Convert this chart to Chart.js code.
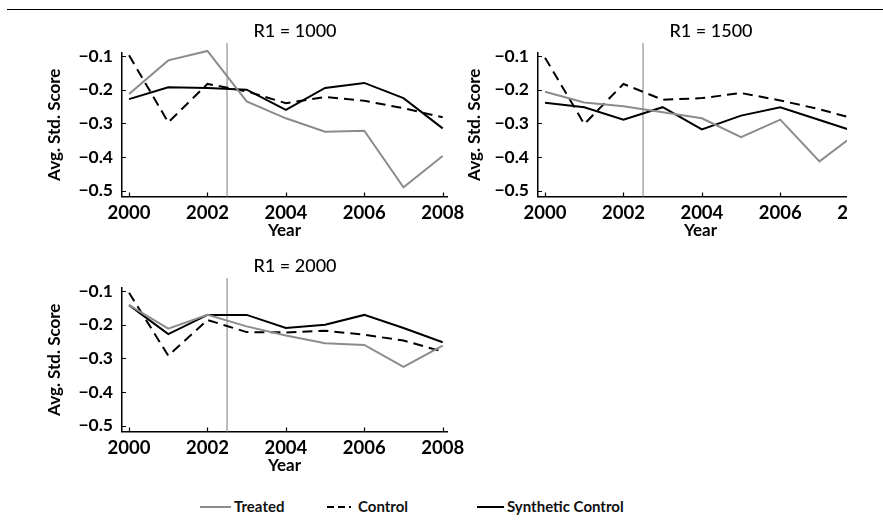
<!DOCTYPE html>
<html>
<head>
<meta charset="utf-8">
<script src="https://cdn.jsdelivr.net/npm/chart.js@4.4.0/dist/chart.umd.min.js"></script>
<style>
body { margin: 0; background: #fff; font-family: Lato, sans-serif; }
#page { position: relative; width: 883px; height: 521px; overflow: hidden; }
#top-rule { position: absolute; left: 7px; top: 9px; width: 876px; border-top: 1.5px solid #000; }
.panel { position: absolute; overflow: hidden; }
.panel-title { position: absolute; width: 200px; text-align: center; font-size: 18px; font-weight: 500; color: #000; line-height: 20px; }
.legend-line { position: absolute; top: 506px; height: 0; border-top: 2px solid #000; }
.legend-text { position: absolute; top: 496px; font-size: 15px; font-weight: bold; color: #111; line-height: 20px; }
</style>
</head>
<body>
<div id="page">
  <div id="top-rule"></div>
  <div class="panel" style="left:0px;top:0px;width:480px;height:245px"><canvas id="chart-1000" width="480" height="245"></canvas></div>
  <div class="panel" style="left:416px;top:0px;width:431px;height:245px"><canvas id="chart-1500" width="480" height="245"></canvas></div>
  <div class="panel" style="left:0px;top:235px;width:480px;height:245px"><canvas id="chart-2000" width="480" height="245"></canvas></div>

  <div class="panel-title" style="left:195px;top:20px">R1 = 1000</div>
  <div class="panel-title" style="left:611px;top:20px">R1 = 1500</div>
  <div class="panel-title" style="left:195px;top:255px">R1 = 2000</div>

  <div class="legend-line" style="left:200px;width:31px;border-top-color:#8c8c8c"></div>
  <div class="legend-text" style="left:234px">Treated</div>
  <svg style="position:absolute;left:327px;top:505px" width="28" height="4">
    <line x1="0" y1="2" x2="28" y2="2" stroke="#000" stroke-width="2" stroke-dasharray="7,4,7,4,2,10"></line>
  </svg>
  <div class="legend-text" style="left:358px">Control</div>
  <div class="legend-line" style="left:477px;width:27px"></div>
  <div class="legend-text" style="left:507px">Synthetic Control</div>
</div>

<script>
// years on the x axis
let years = [2000, 2001, 2002, 2003, 2004, 2005, 2006, 2007, 2008];
let xTicks = [2000, 2002, 2004, 2006, 2008];
let yTicks = [-0.1, -0.2, -0.3, -0.4, -0.5];
let treatYear = 2002.5;

// R1 = 1000
let treated1000 = [-0.213, -0.113, -0.085, -0.235, -0.285, -0.325, -0.322, -0.490, -0.397];
let control1000 = [-0.098, -0.297, -0.183, -0.205, -0.240, -0.222, -0.233, -0.255, -0.282];
let synth1000 = [-0.228, -0.193, -0.195, -0.200, -0.260, -0.195, -0.180, -0.225, -0.315];

// R1 = 1500
let treated1500 = [-0.206, -0.238, -0.249, -0.267, -0.285, -0.341, -0.289, -0.413, -0.325];
let control1500 = [-0.105, -0.302, -0.183, -0.230, -0.225, -0.210, -0.232, -0.258, -0.290];
let synth1500 = [-0.239, -0.252, -0.289, -0.252, -0.318, -0.277, -0.252, -0.290, -0.328];

// R1 = 2000
let treated2000 = [-0.142, -0.212, -0.171, -0.205, -0.232, -0.255, -0.260, -0.325, -0.262];
let control2000 = [-0.105, -0.292, -0.186, -0.222, -0.223, -0.218, -0.230, -0.247, -0.280];
let synth2000 = [-0.142, -0.228, -0.171, -0.171, -0.210, -0.200, -0.171, -0.210, -0.252];


function toPoints(values) {
    return years.map((yr, i) => ({ x: yr, y: values[i] }));
}

// treatment line and the small inward tick marks
let innerMarks = {
    id: "innerMarks",
    beforeDatasetsDraw(chart) {
        let { ctx, chartArea, scales } = chart;
        let tx = scales.x.getPixelForValue(treatYear);
        ctx.save();
        ctx.strokeStyle = "#9a9a9a";
        ctx.lineWidth = 1.3;
        ctx.beginPath();
        ctx.moveTo(tx, chartArea.top - 10);
        ctx.lineTo(tx, chartArea.bottom);
        ctx.stroke();
        ctx.restore();
    },
    afterDraw(chart) {
        let { ctx, chartArea, scales } = chart;
        ctx.save();
        ctx.strokeStyle = "#000";
        ctx.lineWidth = 1.2;
        ctx.beginPath();
        xTicks.forEach((v) => {
            let px = Math.round(scales.x.getPixelForValue(v)) + 0.5;
            ctx.moveTo(px, chartArea.bottom);
            ctx.lineTo(px, chartArea.bottom - 4);
        });
        yTicks.forEach((v) => {
            let py = Math.round(scales.y.getPixelForValue(v)) + 0.5;
            ctx.moveTo(chartArea.left, py);
            ctx.lineTo(chartArea.left + 4, py);
        });
        ctx.stroke();
        ctx.restore();
    }
};

function makePanel(id, treated, control, synth, titlePad) {

    let canvas = document.getElementById(id);

    new Chart(canvas.getContext("2d"), {
        type: "line",
        data: {
            datasets: [{
                label: "Treated",
                data: toPoints(treated),
                borderColor: "#8c8c8c",
                borderWidth: 2
            }, {
                label: "Control",
                data: toPoints(control),
                borderColor: "#000",
                borderWidth: 2,
                borderDash: [10, 6]
            }, {
                label: "Synthetic Control",
                data: toPoints(synth),
                borderColor: "#000",
                borderWidth: 2
            }]
        },
        options: {
            responsive: false,
            animation: false,
            clip: 6,
            elements: {
                point: { radius: 0 },
                line: { tension: 0 }
            },
            layout: { padding: { left: 40, right: 33, top: 53, bottom: 0 } },
            plugins: {
                legend: { display: false },
                tooltip: { enabled: false },
                title: { display: false }
            },
            scales: {
                x: {
                    type: "linear",
                    min: 1999.82,
                    max: 2008.11,
                    afterBuildTicks: (s) => { s.ticks = xTicks.map((v) => ({ value: v })); },
                    afterFit: (s) => { s.height = 48.5; },
                    grid: { display: false, drawTicks: false },
                    border: { display: true, color: "#000", width: 1.5 },
                    ticks: {
                        color: "#000",
                        padding: 5,
                        autoSkip: false,
                        maxRotation: 0,
                        font: { family: "Lato", size: 18.5, weight: "bold" },
                        callback: (v) => String(v)
                    },
                    title: {
                        display: true,
                        text: "Year",
                        color: "#000",
                        font: { family: "Lato", size: 17, weight: "bold" },
                        padding: { top: 0, bottom: 4 }
                    }
                },
                y: {
                    min: -0.5172,
                    max: -0.0911,
                    afterBuildTicks: (s) => { s.ticks = yTicks.map((v) => ({ value: v })); },
                    afterFit: (s) => { s.width = 82; },
                    grid: { display: false, drawTicks: false },
                    border: { display: true, color: "#000", width: 1.5 },
                    ticks: {
                        color: "#000",
                        padding: 9,
                        font: { family: "Lato", size: 17.5, weight: "bold" },
                        callback: (v) => "\u2212" + Math.abs(v).toFixed(1)
                    },
                    title: {
                        display: true,
                        text: "Avg. Std. Score",
                        color: "#000",
                        font: { family: "Lato", size: 17, weight: "bold" },
                        padding: { top: titlePad, bottom: 0 }
                    }
                }
            }
        },
        plugins: [innerMarks]
    });
}

makePanel("chart-1000", treated1000, control1000, synth1000, 4);
makePanel("chart-1500", treated1500, control1500, synth1500, 8);
makePanel("chart-2000", treated2000, control2000, synth2000, 4);
</script>
</body>
</html>
